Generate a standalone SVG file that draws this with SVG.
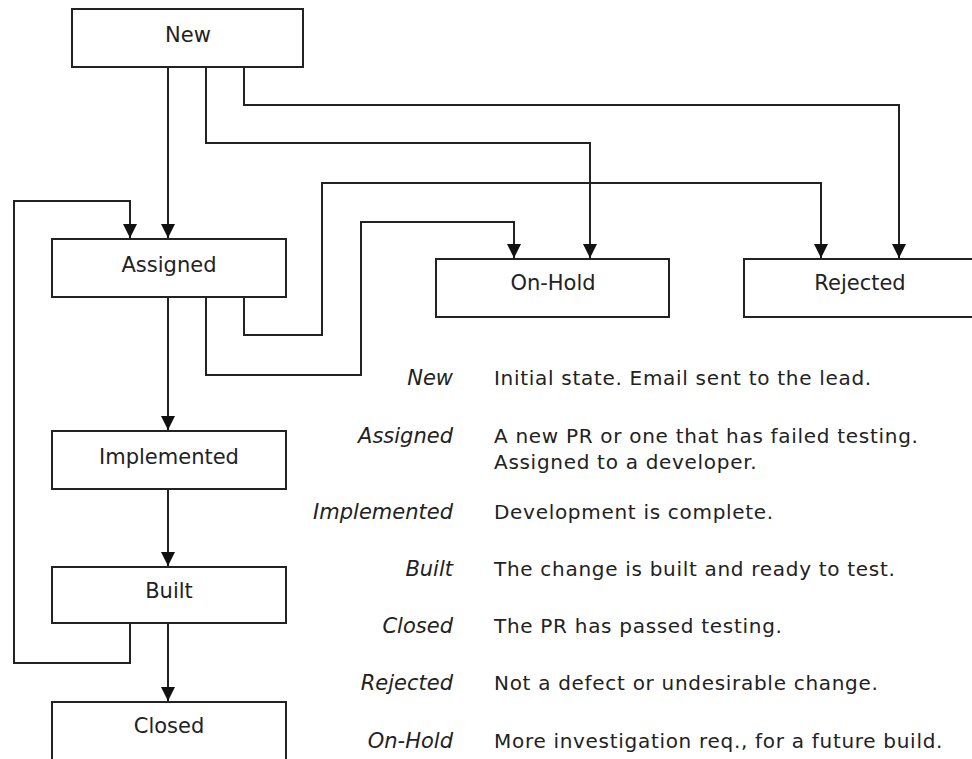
<svg xmlns="http://www.w3.org/2000/svg" width="972" height="759" viewBox="0 0 972 759">
<style>
.box{fill:#fff;stroke:#222;stroke-width:2}
.nt{font-family:"DejaVu Sans",Verdana,sans-serif;font-size:21px;fill:#222;text-anchor:middle}
.lbl{font-family:"DejaVu Sans",Verdana,sans-serif;font-size:21px;font-style:italic;fill:#222;text-anchor:end}
.desc{font-family:"DejaVu Sans",Verdana,sans-serif;font-size:20px;letter-spacing:0.7px;fill:#222}
.c{fill:none;stroke:#222;stroke-width:2;marker-end:url(#ah)}
</style>
<defs>
<marker id="ah" markerUnits="userSpaceOnUse" markerWidth="14" markerHeight="14" viewBox="0 0 14 14" refX="14" refY="7" orient="auto">
<path d="M0,0 L14,7 L0,14 z" fill="#111"/>
</marker>
</defs>
<rect width="972" height="759" fill="#fff"/>
<g id="connectors">
<path class="c" d="M168,67 V238"/>
<path class="c" d="M244,67 V105 H899 V258"/>
<path class="c" d="M206,67 V143 H590 V258"/>
<path class="c" d="M244,297 V335 H322 V183 H821 V258"/>
<path class="c" d="M206,297 V375 H361 V222 H514 V258"/>
<path class="c" d="M168,297 V430"/>
<path class="c" d="M168,489 V566"/>
<path class="c" d="M168,623 V701"/>
<path class="c" d="M130,623 V663 H14 V201 H130 V238"/>
</g>
<g id="node-new"><rect class="box" x="72" y="9" width="231" height="58"/><text class="nt" x="188" y="42">New</text></g>
<g id="node-assigned"><rect class="box" x="52" y="239" width="234" height="58"/><text class="nt" x="169" y="272">Assigned</text></g>
<g id="node-onhold"><rect class="box" x="436" y="259" width="233" height="58"/><text class="nt" x="553" y="290">On-Hold</text></g>
<g id="node-rejected"><rect class="box" x="744" y="259" width="234" height="58"/><text class="nt" x="860" y="290">Rejected</text></g>
<g id="node-implemented"><rect class="box" x="52" y="431" width="234" height="58"/><text class="nt" x="169" y="464">Implemented</text></g>
<g id="node-built"><rect class="box" x="52" y="567" width="234" height="56"/><text class="nt" x="169" y="598">Built</text></g>
<g id="node-closed"><rect class="box" x="52" y="702" width="234" height="70"/><text class="nt" x="169" y="733">Closed</text></g>
<g id="legend">
<text class="lbl" x="453" y="385">New</text>
<text class="desc" x="494" y="385">Initial state. Email sent to the lead.</text>
<text class="lbl" x="453" y="443">Assigned</text>
<text class="desc" x="494" y="443">A new PR or one that has failed testing.</text>
<text class="desc" x="494" y="469">Assigned to a developer.</text>
<text class="lbl" x="453" y="519">Implemented</text>
<text class="desc" x="494" y="519">Development is complete.</text>
<text class="lbl" x="453" y="576">Built</text>
<text class="desc" x="494" y="576">The change is built and ready to test.</text>
<text class="lbl" x="453" y="633">Closed</text>
<text class="desc" x="494" y="633">The PR has passed testing.</text>
<text class="lbl" x="453" y="690">Rejected</text>
<text class="desc" x="494" y="690">Not a defect or undesirable change.</text>
<text class="lbl" x="453" y="748">On-Hold</text>
<text class="desc" x="494" y="748">More investigation req., for a future build.</text>
</g>
</svg>
